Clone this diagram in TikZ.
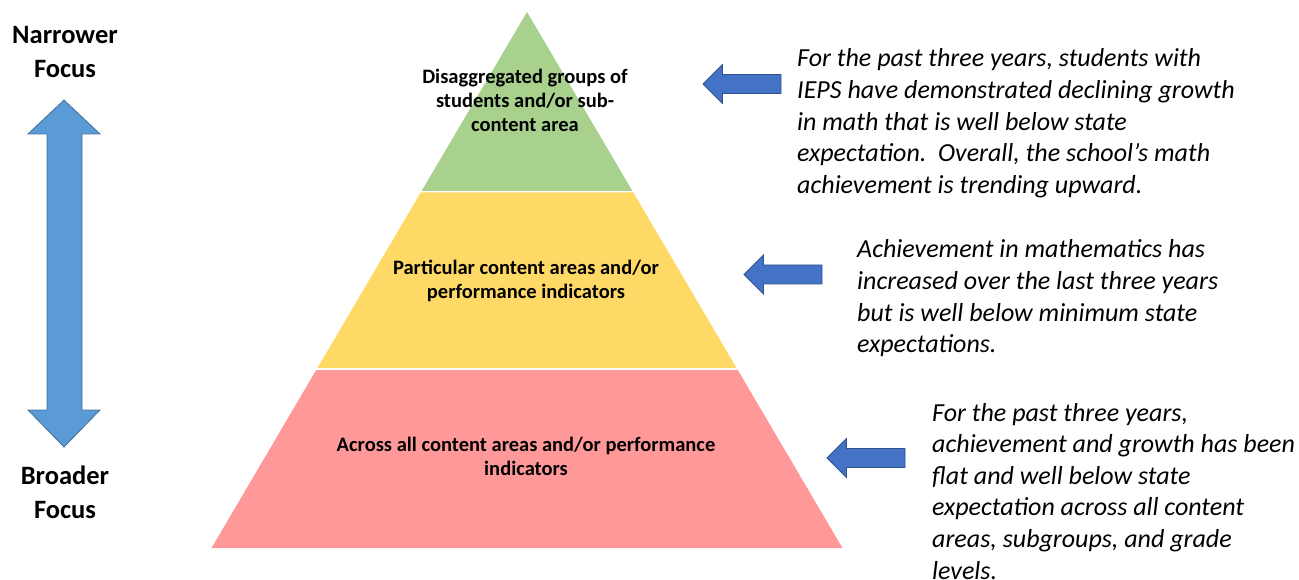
\documentclass[tikz,border=0pt]{standalone}
\usepackage{fontspec}
\setmainfont{Carlito}
\definecolor{pgreen}{HTML}{A9D18E}
\definecolor{pyellow}{HTML}{FFD966}
\definecolor{pred}{HTML}{FF9999}
\definecolor{arrfill}{HTML}{4472C4}
\definecolor{arrline}{HTML}{2F528F}
\definecolor{dfill}{HTML}{5B9BD5}
\definecolor{dline}{HTML}{41719C}
\tikzset{
  layer/.style={draw=none},
  laytext/.style={anchor=base, inner sep=0pt, font=\bfseries\fontsize{20.5}{24}\selectfont},
  focustext/.style={anchor=base, inner sep=0pt, font=\bfseries\fontsize{26.5}{34}\selectfont},
  notetext/.style={anchor=base west, inner sep=0pt, font=\itshape\fontsize{26}{31.6}\selectfont},
  blockarrow/.style={fill=arrfill, draw=arrline, line width=0.8pt, line join=miter},
  dblarrow/.style={fill=dfill, draw=dline, line width=0.8pt, line join=miter}
}
\newcommand\leftblock[3]{% tip x, mid y, right x
  \draw[blockarrow] (#1,#2) -- (#1+19.5,#2-19.5) -- (#1+19.5,#2-9.5) -- (#3,#2-9.5)
    -- (#3,#2+9.5) -- (#1+19.5,#2+9.5) -- (#1+19.5,#2+19.5) -- cycle;}
\begin{document}
\begin{tikzpicture}[x=1pt,y=-1pt]
\useasboundingbox (0,0) rectangle (1299,580);
\clip (0,0) rectangle (1299,580);
% pyramid layers
\fill[pgreen] (527,12) -- (632.4,191) -- (421.6,191) -- cycle;
\fill[pyellow] (420.7,192.5) -- (633.3,192.5) -- (736.6,368) -- (317.4,368) -- cycle;
\fill[pred] (316.2,370) -- (737.8,370) -- (842.5,548) -- (211.5,548) -- cycle;
% pyramid labels
\node[laytext] (top) at (525,83.5) {\parbox[t]{300pt}{\centering Disaggregated groups of\\students and/or sub-\\content area}};
\node[laytext] (mid) at (526,274.5) {\parbox[t]{400pt}{\centering Particular content areas and/or\\performance indicators}};
\node[laytext] (bot) at (526,451.5) {\parbox[t]{500pt}{\centering Across all content areas and/or performance\\indicators}};
% left double arrow
\draw[dblarrow] (64,100) -- (100,134) -- (82,134) -- (82,410) -- (100,410) -- (64,447)
  -- (28,410) -- (47,410) -- (47,134) -- (28,134) -- cycle;
\node[focustext] (narrow) at (65,44) {\parbox[t]{200pt}{\centering Narrower\\Focus}};
\node[focustext] (broad) at (65,484) {\parbox[t]{200pt}{\centering Broader\\Focus}};
% right arrows
\leftblock{703}{84}{781}
\leftblock{744}{274.5}{822}
\leftblock{827}{458}{905}
% notes
\node[notetext] (n1) at (797,67) {\parbox[t]{600pt}{For the past three years, students with\\IEPS have demonstrated declining growth\\in math that is well below state\\expectation.\ \ Overall, the school’s math\\achievement is trending upward.}};
\node[notetext] (n2) at (857,258) {\parbox[t]{600pt}{Achievement in mathematics has\\increased over the last three years\\but is well below minimum state\\expectations.}};
\node[notetext] (n3) at (932,421) {\parbox[t]{600pt}{For the past three years,\\achievement and growth has been\\flat and well below state\\expectation across all content\\areas, subgroups, and grade\\levels.}};
\end{tikzpicture}
\end{document}
